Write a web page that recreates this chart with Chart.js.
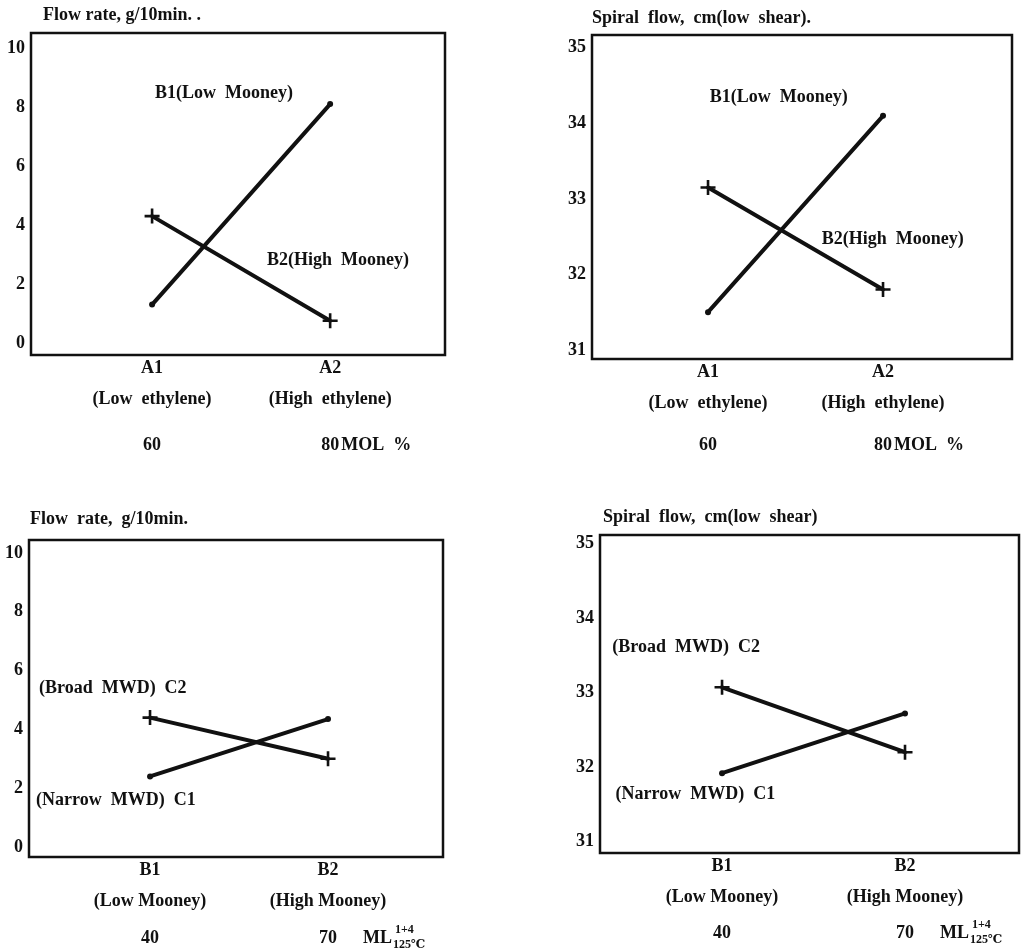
<!DOCTYPE html>
<html>
<head>
<meta charset="utf-8">
<script src="https://cdn.jsdelivr.net/npm/chart.js@4.4.0/dist/chart.umd.min.js"></script>
<style>
  body { margin: 0; background: #fff; }
  #page { position: relative; width: 1021px; height: 951px; overflow: hidden; }
  .panel { position: absolute; }
  .panel canvas { display: block; }
</style>
</head>
<body>
<div id="page">
  <div class="panel" style="left:0;top:0"><canvas id="c1" width="510" height="480"></canvas></div>
  <div class="panel" style="left:510px;top:0"><canvas id="c2" width="511" height="480"></canvas></div>
  <div class="panel" style="left:0;top:480px"><canvas id="c3" width="510" height="471"></canvas></div>
  <div class="panel" style="left:510px;top:480px"><canvas id="c4" width="511" height="471"></canvas></div>
</div>
<script>
// factor levels on the x axes
const ethyleneLabels = [["A1", "(Low  ethylene)"], ["A2", "(High  ethylene)"]];
const ethyleneLevels = ["60", "80"];
const mooneyLabels = [["B1", "(Low Mooney)"], ["B2", "(High Mooney)"]];
const mooneyLevels = ["40", "70"];

// y tick values
const flowTicks = [0, 2, 4, 6, 8, 10];
const spiralTicks = [31, 32, 33, 34, 35];

// flow rate (g/10min) and spiral flow (cm) vs ethylene, per Mooney level
const flowLowMooney = [1.3, 8.1];
const flowHighMooney = [4.3, 0.75];
const spiralLowMooney = [31.5, 34.1];
const spiralHighMooney = [33.15, 31.8];

// flow rate and spiral flow vs Mooney, per MWD
const flowNarrowMwd = [2.4, 4.35];
const flowBroadMwd = [4.4, 3.0];
const spiralNarrowMwd = [31.92, 32.72];
const spiralBroadMwd = [33.07, 32.2];

const FAMILY = "'Liberation Serif', 'DejaVu Serif', serif";
const INK = "#111";

function font(size) {
  return "bold " + size + "px " + FAMILY;
}

// frame, title, curve labels and the level row under the axis
const panelText = {
  id: "panelText",
  afterDraw(chart, args, o) {
    const ctx = chart.ctx;
    const a = chart.chartArea;
    const sx = chart.scales.x;
    const sy = chart.scales.y;
    ctx.save();
    ctx.strokeStyle = INK;
    ctx.lineWidth = 2.5;
    ctx.strokeRect(a.left, a.top, a.right - a.left, a.bottom - a.top);

    ctx.fillStyle = INK;
    ctx.font = font(18);
    ctx.textBaseline = "middle";
    ctx.textAlign = "left";
    ctx.fillText(o.title, a.left + o.titleDx, a.top - o.titleDy);

    o.notes.forEach((n) => {
      ctx.fillText(n.text, sx.getPixelForValue(n.x), sy.getPixelForValue(n.y));
    });

    const rowY = a.bottom + o.rowDy;
    ctx.textAlign = "center";
    o.levels.forEach((t, i) => {
      ctx.fillText(t, sx.getPixelForValue(i + 1), rowY);
    });
    const last = o.levels[o.levels.length - 1];
    const endX = sx.getPixelForValue(o.levels.length) + ctx.measureText(last).width / 2;
    ctx.textAlign = "left";
    if (o.unit === "mol") {
      ctx.fillText("MOL  %", endX + 2, rowY);
    } else {
      const mx = endX + 26;
      ctx.fillText("ML", mx, rowY);
      const w = ctx.measureText("ML").width;
      ctx.font = font(12);
      ctx.fillText("1+4", w + mx + 3, rowY - 8);
      ctx.fillText("125℃", w + mx + 1, rowY + 7);
    }
    ctx.restore();
  },
};

function toPoints(values) {
  return values.map((v, i) => ({ x: i + 1, y: v }));
}

function makePanel(id, cfg) {
  const el = document.getElementById(id);
  const W = el.width;
  const H = el.height;
  const a = cfg.area;
  const tickFont = { family: FAMILY, size: 18, weight: "bold", lineHeight: 1.7 };
  return new Chart(el, {
    type: "line",
    data: {
      datasets: [
        {
          data: toPoints(cfg.dotSeries),
          borderColor: INK,
          backgroundColor: INK,
          borderWidth: 4,
          pointStyle: "circle",
          pointRadius: 3,
          pointBorderWidth: 0,
          borderCapStyle: "round",
        },
        {
          data: toPoints(cfg.crossSeries),
          borderColor: INK,
          backgroundColor: INK,
          borderWidth: 4,
          pointStyle: "cross",
          pointRadius: 7.5,
          pointBorderWidth: 2.6,
          borderCapStyle: "round",
        },
      ],
    },
    options: {
      responsive: false,
      animation: false,
      layout: {
        autoPadding: false,
        padding: { top: a.top, right: W - a.right, left: 0, bottom: 0 },
      },
      plugins: {
        legend: { display: false },
        tooltip: { enabled: false },
        panelText: cfg.text,
      },
      scales: {
        x: {
          type: "linear",
          min: cfg.xMin,
          max: cfg.xMax,
          afterBuildTicks: (s) => {
            s.ticks = cfg.labels.map((_, i) => ({ value: i + 1 }));
          },
          afterFit: (s) => {
            s.height = H - a.bottom;
            s.paddingLeft = 0;
            s.paddingRight = 0;
          },
          grid: { display: false, drawTicks: false },
          border: { display: false },
          ticks: {
            callback: (v, i) => cfg.labels[i],
            font: tickFont,
            color: INK,
            padding: -2,
            autoSkip: false,
            maxRotation: 0,
          },
        },
        y: {
          min: cfg.yMin,
          max: cfg.yMax,
          afterBuildTicks: (s) => {
            s.ticks = cfg.yTicks.map((v) => ({ value: v }));
          },
          afterFit: (s) => {
            s.width = a.left;
          },
          grid: { display: false, drawTicks: false },
          border: { display: false },
          ticks: { font: tickFont, color: INK, padding: 6 },
        },
      },
    },
    plugins: [panelText],
  });
}

makePanel("c1", {
  area: { left: 31, top: 33, right: 445, bottom: 355 },
  xMin: 0.32, xMax: 2.645, yMin: -0.41, yMax: 10.51,
  yTicks: flowTicks,
  labels: ethyleneLabels,
  dotSeries: flowLowMooney,
  crossSeries: flowHighMooney,
  text: {
    title: "Flow rate, g/10min. .",
    titleDx: 12, titleDy: 18, rowDy: 90,
    levels: ethyleneLevels, unit: "mol",
    notes: [
      { text: "B1(Low  Mooney)", x: 1.016, y: 8.47 },
      { text: "B2(High  Mooney)", x: 1.645, y: 2.81 },
    ],
  },
});

makePanel("c2", {
  area: { left: 82, top: 35, right: 502, bottom: 359 },
  xMin: 0.337, xMax: 2.737, yMin: 30.88, yMax: 35.17,
  yTicks: spiralTicks,
  labels: ethyleneLabels,
  dotSeries: spiralLowMooney,
  crossSeries: spiralHighMooney,
  text: {
    title: "Spiral  flow,  cm(low  shear).",
    titleDx: 0, titleDy: 17, rowDy: 86,
    levels: ethyleneLevels, unit: "mol",
    notes: [
      { text: "B1(Low  Mooney)", x: 1.01, y: 34.34 },
      { text: "B2(High  Mooney)", x: 1.65, y: 32.47 },
    ],
  },
});

makePanel("c3", {
  area: { left: 29, top: 60, right: 443, bottom: 377 },
  xMin: 0.32, xMax: 2.646, yMin: -0.34, yMax: 10.44,
  yTicks: flowTicks,
  labels: mooneyLabels,
  dotSeries: flowNarrowMwd,
  crossSeries: flowBroadMwd,
  text: {
    title: "Flow  rate,  g/10min.",
    titleDx: 1, titleDy: 21, rowDy: 81,
    levels: mooneyLevels, unit: "ml",
    notes: [
      { text: "(Broad  MWD)  C2", x: 0.376, y: 5.41 },
      { text: "(Narrow  MWD)  C1", x: 0.36, y: 1.6 },
    ],
  },
});

makePanel("c4", {
  area: { left: 90, top: 55, right: 509, bottom: 373 },
  xMin: 0.333, xMax: 2.623, yMin: 30.85, yMax: 35.11,
  yTicks: spiralTicks,
  labels: mooneyLabels,
  dotSeries: spiralNarrowMwd,
  crossSeries: spiralBroadMwd,
  text: {
    title: "Spiral  flow,  cm(low  shear)",
    titleDx: 3, titleDy: 18, rowDy: 80,
    levels: mooneyLevels, unit: "ml",
    notes: [
      { text: "(Broad  MWD)  C2", x: 0.4, y: 33.6 },
      { text: "(Narrow  MWD)  C1", x: 0.418, y: 31.63 },
    ],
  },
});
</script>
</body>
</html>
